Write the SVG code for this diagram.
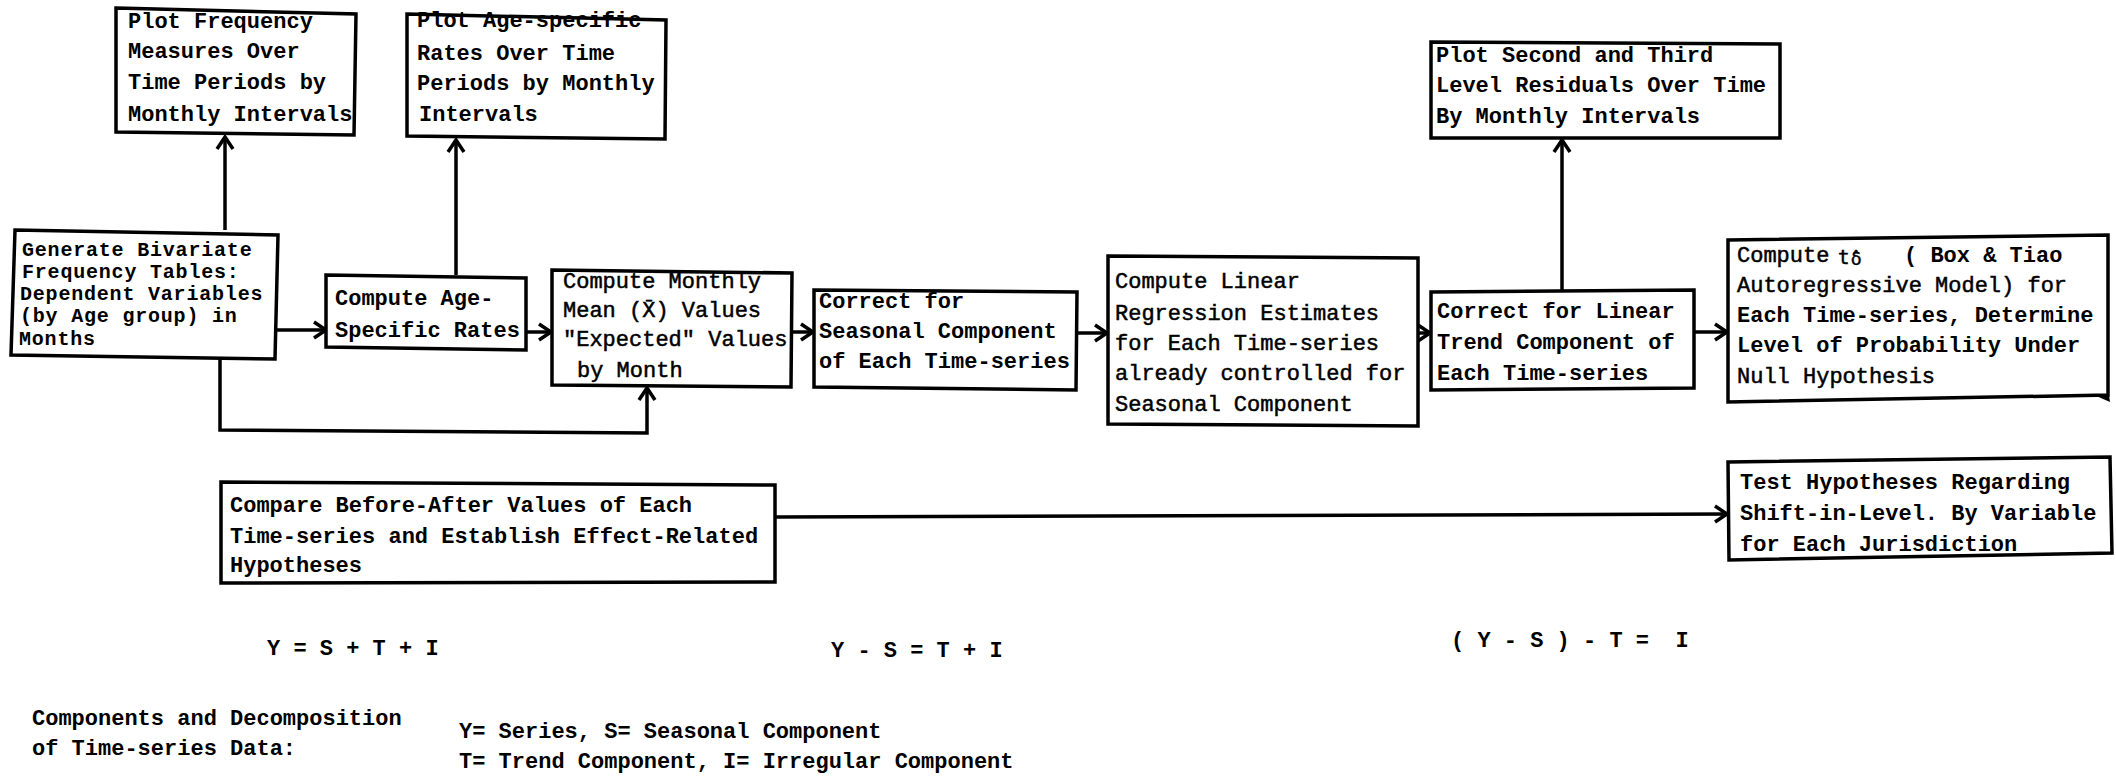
<svg xmlns="http://www.w3.org/2000/svg" width="2116" height="777" viewBox="0 0 2116 777">
<style>
.box{fill:#fff;stroke:#000;stroke-width:3.5;stroke-linejoin:miter}
.t{font-family:"Liberation Mono","DejaVu Sans Mono",monospace;font-size:22px;fill:#000}
.b{font-weight:bold}
.m{stroke:#000;stroke-width:0.5}
.g{font-size:20px;letter-spacing:0.8px}
.c{fill:none;stroke:#000;stroke-width:3.5}
</style>
<defs>
<marker id="ah" markerUnits="userSpaceOnUse" markerWidth="20" markerHeight="20" refX="15" refY="10" orient="auto">
<path d="M3,2 L15,10 L3,18" fill="none" stroke="#000" stroke-width="3.5"/>
</marker>
</defs>
<rect width="2116" height="777" fill="#fff"/>
<g id="connectors">
<path class="c" d="M225,230 L225,137" marker-end="url(#ah)"/>
<path class="c" d="M456,275 L456,140" marker-end="url(#ah)"/>
<path class="c" d="M277,330 L326,330" marker-end="url(#ah)"/>
<path class="c" d="M526,332 L551,332" marker-end="url(#ah)"/>
<path class="c" d="M220,358 L220,430 L647,433 L647,388" marker-end="url(#ah)"/>
<path class="c" d="M792,332 L813,332" marker-end="url(#ah)"/>
<path class="c" d="M1077,333 L1107,333" marker-end="url(#ah)"/>
<path class="c" d="M1418,333 L1430,333" marker-end="url(#ah)"/>
<path class="c" d="M1562,290 L1562,140" marker-end="url(#ah)"/>
<path class="c" d="M1694,332 L1727,332" marker-end="url(#ah)"/>
<path class="c" d="M775,517 L1727,514" marker-end="url(#ah)"/>
<path d="M2094,395 L2108,388 L2110,402 Z" fill="#000"/>
</g>
<g id="n1">
<polygon class="box" points="116,8 356,14 354,135 116,132"/>
<text class="t b" x="128" y="28">Plot Frequency</text>
<text class="t b" x="128" y="58">Measures Over</text>
<text class="t b" x="128" y="89">Time Periods by</text>
<text class="t b" x="128" y="121">Monthly Intervals</text>
</g>
<g id="n2">
<polygon class="box" points="407,14 666,20 665,139 407,136"/>
<text class="t b" x="417" y="27">Plot Age-specific</text>
<text class="t b" x="417" y="60">Rates Over Time</text>
<text class="t b" x="417" y="90">Periods by Monthly</text>
<text class="t b" x="419" y="121">Intervals</text>
</g>
<g id="n3">
<polygon class="box" points="15,230 278,235 275,359 11,355"/>
<text class="t b g" x="22" y="256">Generate Bivariate</text>
<text class="t b g" x="22" y="278">Frequency Tables:</text>
<text class="t b g" x="20" y="300">Dependent Variables</text>
<text class="t b g" x="20" y="322">(by Age group) in</text>
<text class="t b g" x="19" y="345">Months</text>
</g>
<g id="n4">
<polygon class="box" points="326,275 526,278 526,350 326,347"/>
<text class="t b" x="335" y="305">Compute Age-</text>
<text class="t b" x="335" y="337">Specific Rates</text>
</g>
<g id="n5">
<polygon class="box" points="552,270 792,273 791,387 552,385"/>
<text class="t m" x="563" y="288">Compute Monthly</text>
<text class="t m" x="563" y="317">Mean (X̄) Values</text>
<text class="t m" x="563" y="346">"Expected" Values</text>
<text class="t m" x="577" y="377">by Month</text>
</g>
<g id="n6">
<polygon class="box" points="814,290 1077,292 1076,390 814,387"/>
<text class="t b" x="819" y="308">Correct for</text>
<text class="t b" x="819" y="338">Seasonal Component</text>
<text class="t b" x="819" y="368">of Each Time-series</text>
</g>
<g id="n7">
<polygon class="box" points="1108,256 1418,258 1418,426 1108,424"/>
<text class="t m" x="1115" y="288">Compute Linear</text>
<text class="t m" x="1115" y="320">Regression Estimates</text>
<text class="t m" x="1115" y="350">for Each Time-series</text>
<text class="t m" x="1115" y="380">already controlled for</text>
<text class="t m" x="1115" y="411">Seasonal Component</text>
</g>
<g id="n8">
<polygon class="box" points="1431,42 1780,44 1780,138 1431,138"/>
<text class="t b" x="1436" y="62">Plot Second and Third</text>
<text class="t b" x="1436" y="92">Level Residuals Over Time</text>
<text class="t b" x="1436" y="123">By Monthly Intervals</text>
</g>
<g id="n10">
<polygon class="box" points="1728,240 2108,235 2108,395 1728,402"/>
<text class="t m" x="1737" y="262">Compute</text>
<text class="t m" x="1838" y="264" style="font-family:'DejaVu Sans Mono',monospace;font-size:19px">t</text>
<text class="t m" x="1851" y="265" style="font-family:'DejaVu Sans',sans-serif;font-size:17px">δ</text>
<text class="t m" x="1852" y="263" style="font-family:'DejaVu Sans',sans-serif;font-size:16px">ˆ</text>
<text class="t b" x="1904" y="262">( Box &amp; Tiao</text>
<text class="t m" x="1737" y="292">Autoregressive Model) for</text>
<text class="t b" x="1737" y="322">Each Time-series, Determine</text>
<text class="t b" x="1737" y="352">Level of Probability Under</text>
<text class="t m" x="1737" y="383">Null Hypothesis</text>
</g>
<g id="n9">
<polygon class="box" points="1431,292 1694,290 1694,388 1431,390"/>
<text class="t b" x="1437" y="318">Correct for Linear</text>
<text class="t b" x="1437" y="349">Trend Component of</text>
<text class="t b" x="1437" y="380">Each Time-series</text>
</g>
<g id="n11">
<polygon class="box" points="221,482 775,485 775,582 221,583"/>
<text class="t b" x="230" y="512">Compare Before-After Values of Each</text>
<text class="t b" x="230" y="543">Time-series and Establish Effect-Related</text>
<text class="t b" x="230" y="572">Hypotheses</text>
</g>
<g id="n12">
<polygon class="box" points="1728,462 2110,457 2112,553 1729,560"/>
<text class="t b" x="1740" y="489">Test Hypotheses Regarding</text>
<text class="t b" x="1740" y="520">Shift-in-Level. By Variable</text>
<text class="t b" x="1740" y="551">for Each Jurisdiction</text>
</g>
<g id="notes">
<text class="t b" x="267" y="655">Y = S + T + I</text>
<text class="t b" x="831" y="657">Y - S = T + I</text>
<text class="t b" x="1451" y="647" xml:space="preserve">( Y - S ) - T =  I</text>
<text class="t b" x="32" y="725">Components and Decomposition</text>
<text class="t b" x="32" y="755">of Time-series Data:</text>
<text class="t b" x="459" y="738">Y= Series, S= Seasonal Component</text>
<text class="t b" x="459" y="768">T= Trend Component, I= Irregular Component</text>
</g>
</svg>
